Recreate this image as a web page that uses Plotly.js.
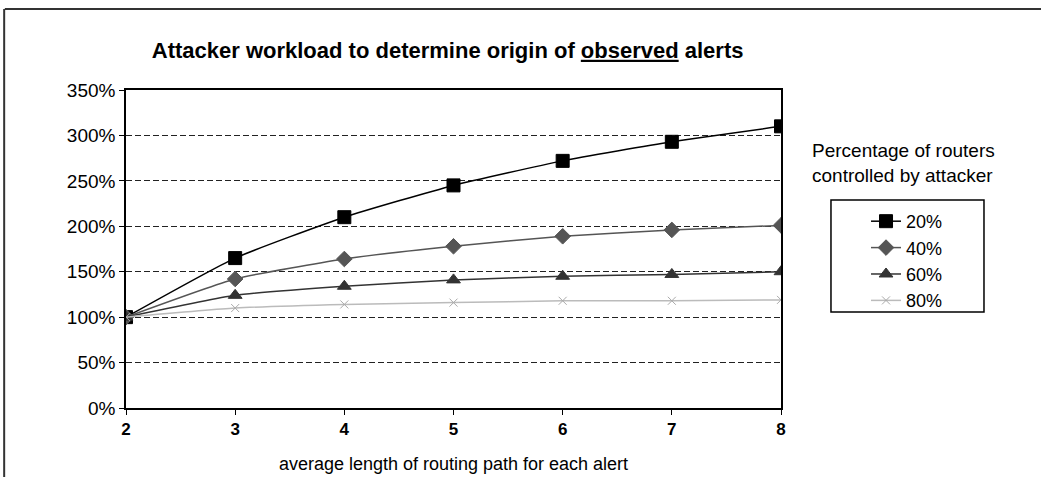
<!DOCTYPE html>
<html><head><meta charset="utf-8">
<script src="https://cdn.plot.ly/plotly-3.0.1.min.js"></script>
<style>body{margin:0;background:#fff}#chart{width:1041px;height:477px}</style>
</head><body><div id="chart"></div>
<script>
var pathLength = [2, 3, 4, 5, 6, 7, 8];
var seriesNames = ["20%", "40%", "60%", "80%"];
var s20 = [100, 165, 210, 245, 272, 293, 310];
var s40 = [100, 142, 164, 178, 189, 196, 201];
var s60 = [100, 124, 134, 141, 145, 147, 150];
var s80 = [100, 110, 114, 116, 118, 118, 119];
var yTicks = [0, 50, 100, 150, 200, 250, 300, 350];
var yTickText = yTicks.map(function(v){return v + "%";});

var styles = [
  {color:"#000000", symbol:"square", size:13, lc:"#000000"},
  {color:"#555555", symbol:"diamond", size:12, lc:"#555555"},
  {color:"#333333", symbol:"triangle-up", size:12, lc:"#333333"},
  {color:"#aaaaaa", symbol:"x-thin-open", size:8, lc:"#bbbbbb"}
];
var data = [s20, s40, s60, s80].map(function(ys, i){
  var st = styles[i];
  return {
    x: pathLength, y: ys, name: seriesNames[i], type: "scatter", mode: "lines+markers",
    line: {color: st.lc, width: 1.5, shape: "spline", smoothing: 0.5},
    marker: {symbol: st.symbol, size: st.size, color: st.color, line: {color: st.color, width: 1}}
  };
});

var font = "Liberation Sans, Arial, sans-serif";
var layout = {
  width: 1041, height: 477,
  margin: {l: 126, r: 260, t: 90, b: 69},
  paper_bgcolor: "#fff", plot_bgcolor: "#fff",
  showlegend: true,
  font: {family: font, color: "#000"},
  title: {text: "<b>Attacker workload to determine origin of <u>observed</u> alerts</b>",
          font: {size: 22, family: font, color: "#000"}, x: 0.43, xanchor: "center", y: 0.895, yanchor: "middle"},
  xaxis: {range: [2, 8], tickvals: pathLength, ticktext: pathLength.map(function(v){return "<b>"+v+"</b>";}),
          showgrid: false, zeroline: false, showline: true, linecolor: "#000", linewidth: 1.5, mirror: true,
          ticks: "outside", ticklen: 5, tickcolor: "#000", tickfont: {size: 17},
          title: {text: "average length of routing path for each alert", font: {size: 18}, standoff: 19}},
  yaxis: {range: [0, 350], tickvals: yTicks, ticktext: yTickText,
          showgrid: true, gridcolor: "#222", griddash: "6px,3px", gridwidth: 1.3,
          zeroline: false, showline: true, linecolor: "#000", linewidth: 1.5, mirror: true,
          ticks: "outside", ticklen: 5, tickcolor: "#000", tickfont: {size: 19}},
  legend: {x: 1.1298, y: 0.6447, xanchor: "left", yanchor: "top", borderwidth: 0,
           bgcolor: "rgba(0,0,0,0)", font: {size: 18}, tracegroupgap: 0},
  annotations: [
    {text: "Percentage of routers<br>controlled by attacker", xref: "paper", yref: "paper",
     x: 1.045, y: 0.769, xanchor: "left", yanchor: "middle", showarrow: false, align: "left",
     font: {size: 19, family: font}}
  ],
  shapes: [
    {type: "line", xref: "paper", yref: "paper", x0: -0.185, x1: 1.5, y0: 1.255, y1: 1.255, line: {color: "#333", width: 2}},
    {type: "line", xref: "paper", yref: "paper", x0: -0.186, x1: -0.186, y0: 1.255, y1: -0.3, line: {color: "#333", width: 2}},
    {type: "rect", xref: "paper", yref: "paper", x0: 1.0763, x1: 1.3099, y0: 0.3019, y1: 0.654, line: {color: "#000", width: 1.5}}
  ]
};
Plotly.newPlot("chart", data, layout, {displayModeBar: false});
</script></body></html>
